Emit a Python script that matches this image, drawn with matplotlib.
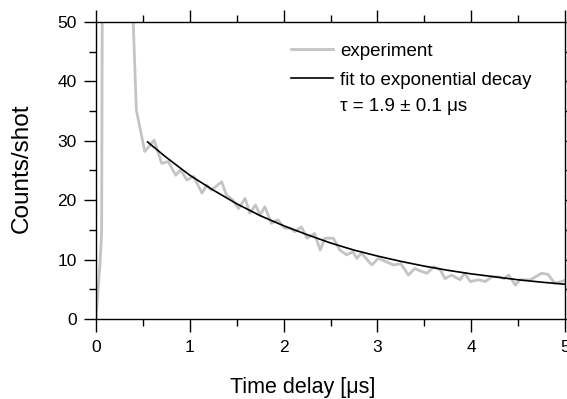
import numpy as np
import matplotlib
matplotlib.use('Agg')
import matplotlib.pyplot as plt
from matplotlib.ticker import MultipleLocator

plt.rcParams['font.family'] = ['Liberation Sans', 'DejaVu Sans']

# experiment trace (time in us, counts/shot)
t_exp = [0.0, 0.043, 0.06, 0.075, 0.15, 0.25, 0.33, 0.43, 0.52, 0.62, 0.70, 0.77,
         0.85, 0.90, 0.97, 1.04, 1.13, 1.18, 1.23, 1.34, 1.39, 1.46, 1.52,
         1.59, 1.64, 1.70, 1.75, 1.80, 1.87, 1.94, 2.01, 2.07, 2.12, 2.19,
         2.25, 2.33, 2.39, 2.44, 2.53, 2.60, 2.67, 2.74, 2.78, 2.83, 2.94,
         3.01, 3.10, 3.17, 3.25, 3.33, 3.40, 3.47, 3.53, 3.60, 3.67, 3.72,
         3.79, 3.88, 3.93, 3.99, 4.08, 4.15, 4.22, 4.29, 4.35, 4.40, 4.47,
         4.52, 4.63, 4.75, 4.82, 4.89, 4.96, 5.0]
y_exp = [0.0, 9.4, 14.5, 100.0, 120.0, 120.0, 80.0, 35.2, 28.2, 30.1, 26.2, 26.5,
         24.2, 25.1, 23.4, 24.0, 21.2, 22.5, 21.7, 23.1, 20.9, 20.0, 18.6,
         20.3, 17.8, 19.2, 17.5, 18.9, 16.1, 16.7, 15.3, 15.3, 14.7, 15.5,
         13.6, 14.4, 11.6, 13.6, 13.6, 11.6, 10.8, 11.3, 10.2, 11.1, 9.1,
         10.2, 9.6, 9.1, 9.3, 7.4, 8.5, 8.0, 7.7, 8.8, 8.3, 6.8,
         7.4, 6.6, 7.7, 6.3, 6.6, 6.3, 7.1, 7.1, 6.8, 7.4, 5.7,
         6.6, 6.6, 7.7, 7.5, 6.0, 6.3, 6.5]

# fit curve
t_fit = [0.55, 0.75, 1.0, 1.25, 1.5, 1.75, 2.0, 2.25, 2.5, 2.75, 3.0,
         3.25, 3.5, 3.75, 4.0, 4.25, 4.5, 4.75, 5.0]
y_fit = [29.8, 27.2, 24.2, 21.7, 19.4, 17.4, 15.7, 14.2, 12.8, 11.6, 10.6,
         9.7, 8.9, 8.2, 7.6, 7.1, 6.6, 6.2, 5.85]

fig = plt.figure(figsize=(5.67, 3.99), dpi=100)
ax = fig.add_axes([0.1693, 0.2005, 0.8272, 0.7444])

ax.plot(t_exp, y_exp, color='#c4c4c4', lw=2.0, label='experiment')
ax.plot(t_fit, y_fit, color='black', lw=1.2, label='fit to exponential decay')

ax.set_xlim(0, 5)
ax.set_ylim(0, 50)
ax.xaxis.set_major_locator(MultipleLocator(1))
ax.xaxis.set_minor_locator(MultipleLocator(0.5))
ax.yaxis.set_major_locator(MultipleLocator(10))
ax.yaxis.set_minor_locator(MultipleLocator(5))
ax.tick_params(which='both', direction='out', top=True, right=True,
               width=1.0, labelsize=12.5)
ax.tick_params(which='major', length=9)
ax.tick_params(axis='x', which='major', pad=6)
ax.tick_params(axis='y', which='major', pad=5)
ax.tick_params(which='minor', length=5)
for s in ax.spines.values():
    s.set_linewidth(1.0)

fig.text(0.534, 0.030, 'Time delay [\u03bcs]', fontsize=15.5,
         ha='center', va='center')
fig.text(0.039, 0.578, 'Counts/shot', fontsize=17.5, rotation=90,
         ha='center', va='center')

leg = ax.legend(loc='upper left', bbox_to_anchor=(0.5127, 0.8925),
                bbox_transform=fig.transFigure, frameon=False,
                fontsize=13.5, handlelength=2.24, handletextpad=0.39,
                labelspacing=0.61, borderpad=0, borderaxespad=0)
fig.text(0.5996, 0.732, '\u03c4 = 1.9 \u00b1 0.1 \u03bcs', fontsize=13.5,
         va='center', ha='left')

fig.savefig('out.png', dpi=100)
